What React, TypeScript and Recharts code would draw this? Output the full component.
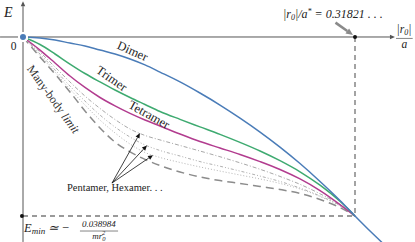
import React from 'react';
import {
  LineChart,
  Line,
  XAxis,
  YAxis,
  ReferenceLine,
  ReferenceDot,
} from 'recharts';

// |r0|/a along the horizontal axis
const xValues = [
  0, 0.0163, 0.0307, 0.045, 0.0594, 0.0738, 0.0882, 0.1026, 0.1169, 0.1313, 0.1505,
  0.1696, 0.1888, 0.208, 0.2272, 0.2463, 0.2655, 0.2847, 0.3038, 0.31821, 0.3326, 0.3441,
];

// energies in units of |E_min|
const dimer = [
  0, -0.006, -0.017, -0.034, -0.05, -0.073, -0.095, -0.123, -0.156, -0.196, -0.251,
  -0.313, -0.38, -0.453, -0.531, -0.615, -0.707, -0.807, -0.913, -1, -1.084, -1.148,
];
const trimer = [
  0, -0.042, -0.095, -0.151, -0.204, -0.251, -0.296, -0.338, -0.377, -0.416, -0.46,
  -0.502, -0.544, -0.589, -0.637, -0.691, -0.753, -0.828, -0.918, -1,
];
const tetramer = [
  0, -0.073, -0.145, -0.218, -0.282, -0.338, -0.385, -0.427, -0.464, -0.497, -0.542,
  -0.584, -0.62, -0.656, -0.696, -0.74, -0.793, -0.858, -0.936, -1,
];
const pentamer = [
  0, -0.084, -0.168, -0.251, -0.33, -0.399, -0.461, -0.514, -0.55, -0.575, -0.606,
  -0.637, -0.669, -0.703, -0.739, -0.779, -0.823, -0.876, -0.937, -1,
];
const hexamer = [
  0, -0.095, -0.184, -0.274, -0.358, -0.436, -0.503, -0.559, -0.603, -0.634, -0.665,
  -0.696, -0.722, -0.749, -0.777, -0.807, -0.844, -0.888, -0.941, -1,
];
const heptamer = [
  0, -0.103, -0.196, -0.291, -0.38, -0.464, -0.536, -0.598, -0.645, -0.673, -0.701,
  -0.726, -0.749, -0.771, -0.793, -0.818, -0.849, -0.891, -0.944, -1,
];
const manyBody = [
  0, -0.112, -0.207, -0.307, -0.413, -0.508, -0.587, -0.642, -0.684, -0.718, -0.754,
  -0.782, -0.802, -0.818, -0.835, -0.852, -0.874, -0.908, -0.953, -1,
];

const rStar = 0.31821;
const eMin = -1;

const data = xValues.map((x, i) => ({
  x,
  dimer: dimer[i],
  trimer: trimer[i],
  tetramer: tetramer[i],
  pentamer: pentamer[i],
  hexamer: hexamer[i],
  heptamer: heptamer[i],
  manyBody: manyBody[i],
}));

const serif = "'Liberation Serif', serif";

function arrowLine(color: string, width: number, head: number) {
  return (p: any) => {
    const { x1, y1, x2, y2 } = p;
    const a = Math.atan2(y2 - y1, x2 - x1);
    const hx = x2 - head * Math.cos(a);
    const hy = y2 - head * Math.sin(a);
    const w = head * 0.45;
    const pts = [
      [x2, y2],
      [hx + w * Math.sin(a), hy - w * Math.cos(a)],
      [hx - w * Math.sin(a), hy + w * Math.cos(a)],
    ]
      .map((q) => q.join(','))
      .join(' ');
    return (
      <g>
        <line x1={x1} y1={y1} x2={hx} y2={hy} stroke={color} strokeWidth={width} />
        <polygon points={pts} fill={color} />
      </g>
    );
  };
}

function textAt(
  content: React.ReactNode,
  opts: { size?: number; angle?: number; anchor?: string; color?: string; italic?: boolean }
) {
  return (p: any) => (
    <text
      x={p.cx}
      y={p.cy}
      style={{ fontFamily: serif }}
      fontSize={opts.size ?? 11}
      fontStyle={opts.italic ? 'italic' : 'normal'}
      fill={opts.color ?? '#222'}
      textAnchor={opts.anchor ?? 'start'}
      dominantBaseline={opts.angle !== undefined ? 'middle' : 'auto'}
      transform={opts.angle !== undefined ? `rotate(${opts.angle} ${p.cx} ${p.cy})` : undefined}
    >
      {content}
    </text>
  );
}

export default function App() {
  return (
    <div style={{ position: 'absolute', left: 0, top: 0, background: '#fff' }}>
      <LineChart width={415} height={242} data={data} margin={{ top: 0, right: 0, bottom: 0, left: 0 }}>
        <XAxis dataKey="x" type="number" domain={[-0.022045, 0.375716]} hide allowDataOverflow />
        <YAxis type="number" domain={[-1.1453, 0.2067]} hide allowDataOverflow />

        {/* axes */}
        <ReferenceLine
          segment={[{ x: -0.022, y: 0 }, { x: 0.3565, y: 0 }]}
          shape={arrowLine('#555', 1, 5)}
          ifOverflow="visible"
        />
        <ReferenceLine
          segment={[{ x: 0, y: -1.145 }, { x: 0, y: 0.2 }]}
          shape={arrowLine('#555', 1, 5)}
          ifOverflow="visible"
        />

        {/* guides */}
        <ReferenceLine
          segment={[{ x: 0, y: eMin }, { x: rStar, y: eMin }]}
          stroke="#9a9a9a"
          strokeWidth={1.8}
          strokeDasharray="5 4"
        />
        <ReferenceLine
          segment={[{ x: rStar, y: 0 }, { x: rStar, y: eMin }]}
          stroke="#9a9a9a"
          strokeWidth={1.8}
          strokeDasharray="5 4"
        />

        <Line dataKey="manyBody" type="monotone" stroke="#8c8c8c" strokeWidth={1.5} strokeDasharray="8 5" dot={false} isAnimationActive={false} />
        <Line dataKey="heptamer" type="monotone" stroke="#b5b5b5" strokeWidth={1} strokeDasharray="1 2" dot={false} isAnimationActive={false} />
        <Line dataKey="hexamer" type="monotone" stroke="#b0b0b0" strokeWidth={1} strokeDasharray="3 2 1 2 1 2" dot={false} isAnimationActive={false} />
        <Line dataKey="pentamer" type="monotone" stroke="#a8a8a8" strokeWidth={1} strokeDasharray="4 2 1 2" dot={false} isAnimationActive={false} />
        <Line dataKey="tetramer" type="monotone" stroke="#b23c8f" strokeWidth={1.5} dot={false} isAnimationActive={false} />
        <Line dataKey="trimer" type="monotone" stroke="#3eaa70" strokeWidth={1.5} dot={false} isAnimationActive={false} />
        <Line dataKey="dimer" type="monotone" stroke="#4a7cb8" strokeWidth={1.5} dot={false} isAnimationActive={false} />

        {/* pentamer, hexamer arrows */}
        <ReferenceLine segment={[{ x: 0.0853, y: -0.816 }, { x: 0.1121, y: -0.537 }]} shape={arrowLine('#111', 0.8, 5)} />
        <ReferenceLine segment={[{ x: 0.0853, y: -0.816 }, { x: 0.1188, y: -0.606 }]} shape={arrowLine('#111', 0.8, 5)} />
        <ReferenceLine segment={[{ x: 0.0853, y: -0.816 }, { x: 0.1246, y: -0.66 }]} shape={arrowLine('#111', 0.8, 5)} />

        {/* pointer to r* */}
        <ReferenceLine segment={[{ x: 0.2995, y: 0.08 }, { x: 0.3163, y: 0.011 }]} shape={arrowLine('#8a8a8a', 2.6, 7)} ifOverflow="visible" />

        <ReferenceDot x={rStar} y={0} r={2} fill="#111" stroke="none" />
        <ReferenceDot x={-0.001} y={eMin} r={2} fill="#111" stroke="none" />

        {/* labels */}
        <ReferenceDot x={0.1045} y={-0.085} shape={textAt('Dimer', { size: 12.5, angle: 24, anchor: 'middle' })} />
        <ReferenceDot x={0.0843} y={-0.238} shape={textAt('Trimer', { size: 12.5, angle: 35, anchor: 'middle' })} />
        <ReferenceDot x={0.1203} y={-0.44} shape={textAt('Tetramer', { size: 12.5, angle: 29, anchor: 'middle' })} />
        <ReferenceDot
          x={0.0282}
          y={-0.352}
          shape={textAt(
            <>
              Many-body <tspan fontStyle="italic">limit</tspan>
            </>,
            { size: 12, angle: 54, anchor: 'middle', color: '#333' }
          )}
        />
        <ReferenceDot x={0.0422} y={-0.86} shape={textAt('Pentamer, Hexamer. . .', { size: 10.5 })} />
        <ReferenceDot x={-0.0182} y={0.112} shape={textAt('E', { size: 14, italic: true })} />
        <ReferenceDot x={-0.0118} y={-0.073} shape={textAt('0', { size: 11.5 })} />
        <ReferenceDot
          x={0.2492}
          y={0.106}
          shape={textAt(
            <>
              |r<tspan fontSize={8} dy={2}>0</tspan>
              <tspan dy={-2}>|/a</tspan>
              <tspan fontSize={8} dy={-4}>*</tspan>
              <tspan dy={4}> = 0.31821 . . .</tspan>
            </>,
            { size: 12, italic: true }
          )}
        />
        <ReferenceDot
          x={0.3652}
          y={0.02}
          shape={textAt(
            <>
              |r<tspan fontSize={8} dy={2}>0</tspan>
              <tspan dy={-2}>|</tspan>
            </>,
            { size: 11.5, italic: true, anchor: 'middle' }
          )}
        />
        <ReferenceLine segment={[{ x: 0.3575, y: -0.008 }, { x: 0.3735, y: -0.008 }]} stroke="#333" strokeWidth={0.6} ifOverflow="visible" />
        <ReferenceDot x={0.3655} y={-0.064} shape={textAt('a', { size: 11.5, italic: true, anchor: 'middle' })} />

        <ReferenceDot
          x={0.001}
          y={-1.089}
          shape={textAt(
            <>
              E<tspan fontSize={9} dy={2}>min</tspan>
              <tspan dy={-2}> ≃ −</tspan>
            </>,
            { size: 12.5, italic: true }
          )}
        />
        <ReferenceDot x={0.0728} y={-1.062} shape={textAt('0.038984', { size: 9, italic: true, anchor: 'middle' })} />
        <ReferenceLine segment={[{ x: 0.0546, y: -1.084 }, { x: 0.0911, y: -1.084 }]} stroke="#333" strokeWidth={0.6} />
        <ReferenceDot
          x={0.0728}
          y={-1.13}
          shape={textAt(
            <>
              mr<tspan fontSize={6.5} dy={2}>0</tspan>
              <tspan fontSize={6.5} dx={-3.5} dy={-6}>2</tspan>
            </>,
            { size: 9, italic: true, anchor: 'middle' }
          )}
        />
      </LineChart>
    </div>
  );
}
